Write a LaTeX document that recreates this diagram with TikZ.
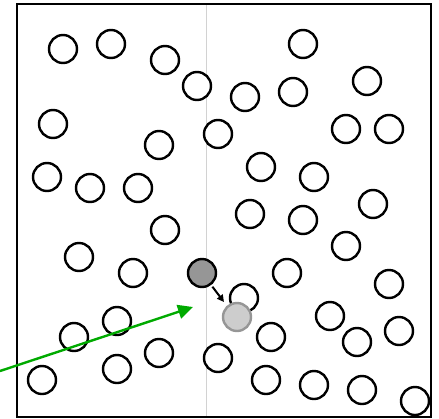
\documentclass[tikz,border=0pt]{standalone}
\usetikzlibrary{arrows.meta}
\definecolor{arrowgreen}{RGB}{0,170,0}
\definecolor{darkball}{RGB}{150,150,150}
\definecolor{lightball}{RGB}{205,205,205}
\definecolor{lightedge}{RGB}{150,150,150}
\definecolor{divider}{RGB}{210,210,210}
\tikzset{
  ball/.style={circle, draw=black, line width=2.4pt, minimum size=28pt, inner sep=0pt, fill=white},
  tracked/.style={ball, fill=darkball},
  moved/.style={ball, draw=lightedge, fill=lightball},
  frame/.style={draw=black, line width=2pt},
  flight/.style={draw=arrowgreen, line width=2.4pt, -{Triangle[length=15pt,width=14pt]}},
  nudge/.style={draw=black, line width=2pt, -{Triangle[length=7pt,width=7pt]}}
}
\begin{document}
\begin{tikzpicture}[x=1pt,y=-1pt]
\useasboundingbox (0,0) rectangle (439,418);
\draw[divider, line width=1pt] (206,3) -- (206,416);
\node[frame, rectangle, minimum width=414pt, minimum height=413pt, inner sep=0pt, anchor=north west] (box) at (16,3) {};
\foreach \n/\x/\y in {a/63/49, b/111/44, c/165/60, d/197/86, e/53/124, f/159/145, g/218/134,
  h/47/177, i/90/188, j/138/188, k/303/44, l/245/97, m/293/92, n/367/81, o/346/129, p/389/129,
  q/261/167, r/314/177, s/373/204, t/250/214, u/303/220, v/165/230, w/79/257, x/133/273,
  y/346/246, z/287/273, aa/389/284, ab/244/298, ac/74/337, ad/117/321, ae/42/380, af/117/369,
  ag/159/353, ah/218/358, ai/271/337, aj/330/316, ak/357/342, al/399/331, am/266/380,
  an/314/385, ao/362/390, ap/415/401}
  {\node[ball] (\n) at (\x,\y) {};}
\node[tracked] (dark) at (202,273) {};
\node[moved] (light) at (237,317) {};
\coordinate (nudgetip) at (224,302);
\draw[nudge, shorten <=2pt] (dark) -- (nudgetip);
\coordinate (src) at (0,371);
\coordinate (hit) at (193,307);
\draw[flight] (src) -- (hit);
\end{tikzpicture}
\end{document}
